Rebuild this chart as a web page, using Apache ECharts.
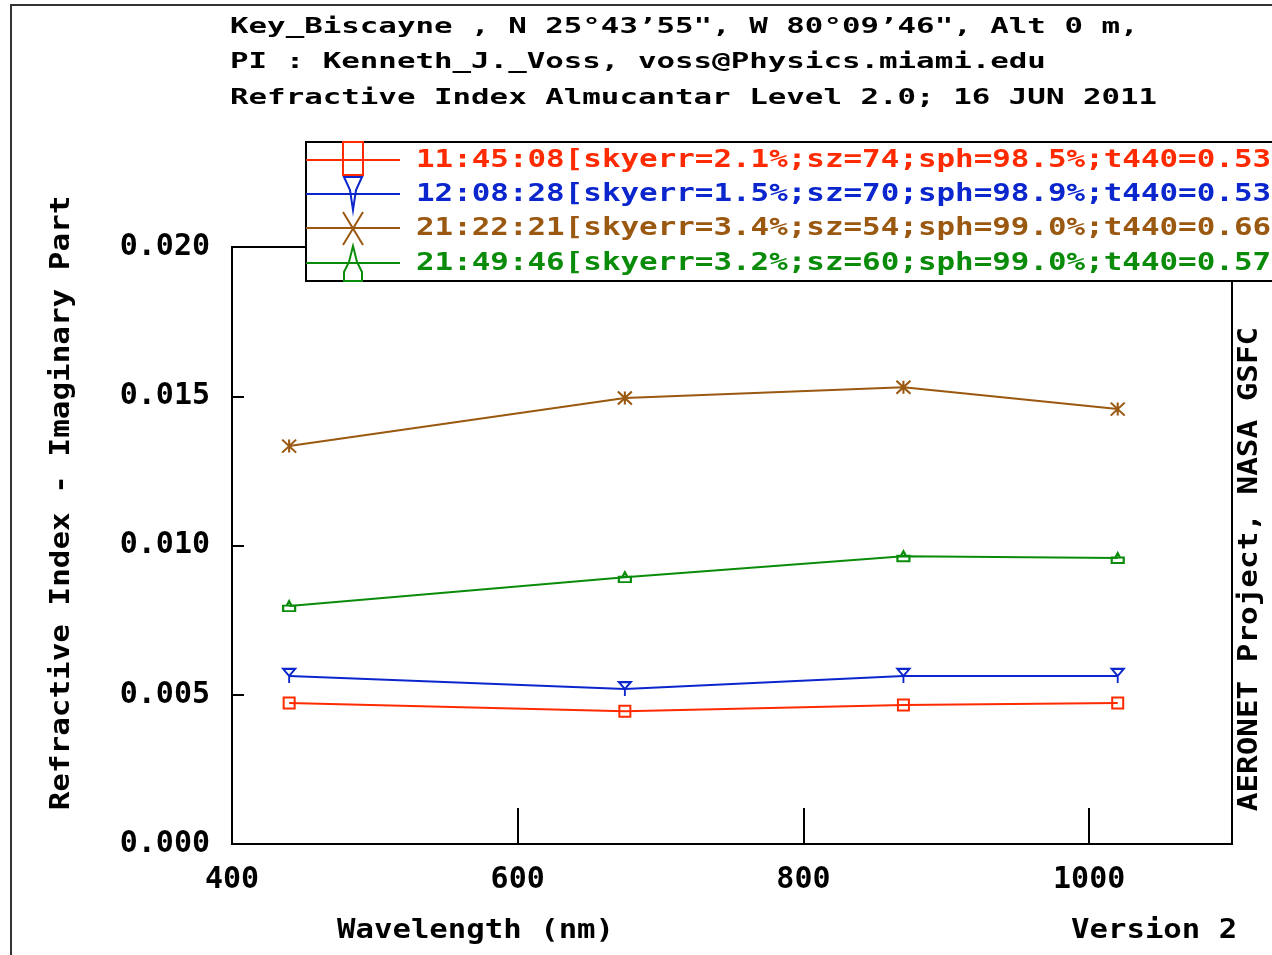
<!DOCTYPE html>
<html>
<head>
<meta charset="utf-8">
<script src="https://cdn.jsdelivr.net/npm/echarts@6/dist/echarts.min.js"></script>
<style>
  html, body { margin: 0; padding: 0; background: #fff; }
  #chart { width: 1272px; height: 955px; }
</style>
</head>
<body>
<div id="chart"></div>
<script>
// data
var wavelengths = [440, 675, 870, 1020];
var seriesNames = ['11:45:08', '12:08:28', '21:22:21', '21:49:46'];
var legendLabels = [
    '11:45:08[skyerr=2.1%;sz=74;sph=98.5%;t440=0.53',
    '12:08:28[skyerr=1.5%;sz=70;sph=98.9%;t440=0.53',
    '21:22:21[skyerr=3.4%;sz=54;sph=99.0%;t440=0.66',
    '21:49:46[skyerr=3.2%;sz=60;sph=99.0%;t440=0.57'
];
var kRed = [0.00472, 0.00445, 0.00466, 0.00472];
var kBlue = [0.00563, 0.00519, 0.00563, 0.00563];
var kBrown = [0.01333, 0.01494, 0.01530, 0.01457];
var kGreen = [0.00797, 0.00894, 0.00964, 0.00958];
var titleLines = [
    'Key_Biscayne , N 25\u00b043\u201955", W 80\u00b009\u201946", Alt 0 m,',
    'PI : Kenneth_J._Voss, voss@Physics.miami.edu',
    'Refractive Index Almucantar Level 2.0; 16 JUN 2011'
];

var colors = ['#ff2a00', '#0a26cc', '#9a5810', '#0a8c0a'];
var symbols = [
    'rect',
    'path://M0,0 L12,0 L6,7 Z M6,7 L6,14',
    'path://M0,0 L12,12 M12,0 L0,12 M6,0 L6,12',
    'path://M6,0 L8,4 L4,4 Z M1,4 L11,4 L11,9 L1,9 Z'
];
var symbolSizes = [[11, 11], [12, 14], [14, 13], [12, 10]];
var values = [kRed, kBlue, kBrown, kGreen];
var font = 'DejaVu Sans Mono';

function pairs(ys) {
    return wavelengths.map(function (x, i) { return [x, ys[i]]; });
}

var series = values.map(function (ys, k) {
    return {
        name: seriesNames[k],
        type: 'line',
        data: pairs(ys),
        symbol: symbols[k],
        symbolSize: symbolSizes[k],
        lineStyle: { color: colors[k], width: 2 },
        itemStyle: { color: 'rgba(0,0,0,0)', borderColor: colors[k], borderWidth: 2 },
        z: 3
    };
});

//texts and legend
var graphics = [
    { type: 'rect', shape: { x: 11, y: 5, width: 1400, height: 1100 },
      style: { fill: 'none', stroke: '#333', lineWidth: 2 }, z: 1 }
];
titleLines.forEach(function (t, i) {
    graphics.push({ type: 'text', x: 230, y: 27 + i * 35.5, scaleX: 1.4,
        style: { text: t, font: 'bold 22px "' + font + '"', fill: '#000', textVerticalAlign: 'middle' } });
});
graphics.push({ type: 'text', x: 62, y: 503, rotation: Math.PI / 2, scaleX: 1.19,
    style: { text: 'Refractive Index - Imaginary Part', font: 'bold 26px "' + font + '"', fill: '#000',
             textAlign: 'center', textVerticalAlign: 'middle' } });
graphics.push({ type: 'text', x: 1250, y: 569, rotation: Math.PI / 2, scaleX: 1.19,
    style: { text: 'AERONET Project, NASA GSFC', font: 'bold 26px "' + font + '"', fill: '#000',
             textAlign: 'center', textVerticalAlign: 'middle' } });
graphics.push({ type: 'text', x: 337, y: 931, scaleX: 1.18,
    style: { text: 'Wavelength (nm)', font: 'bold 26px "' + font + '"', fill: '#000', textVerticalAlign: 'middle' } });
graphics.push({ type: 'text', x: 1071, y: 931, scaleX: 1.18,
    style: { text: 'Version 2', font: 'bold 26px "' + font + '"', fill: '#000', textVerticalAlign: 'middle' } });

// legend box
graphics.push({ type: 'rect', shape: { x: 306, y: 142, width: 1100, height: 139 },
    style: { fill: '#fff', stroke: '#000', lineWidth: 2 }, z: 10 });
var rowY = [160, 194, 228, 263];
rowY.forEach(function (y, k) {
    graphics.push({ type: 'line', shape: { x1: 306, y1: y, x2: 400, y2: y },
        style: { stroke: colors[k], lineWidth: 2 }, z: 11 });
    graphics.push({ type: 'text', x: 416, y: y, scaleX: 1.235, z: 11,
        style: { text: legendLabels[k], font: 'bold 25px "' + font + '"', fill: colors[k], textVerticalAlign: 'middle' } });
});
// big legend markers
var mk = function (c) { return { fill: 'none', stroke: c, lineWidth: 2 }; };
graphics.push({ type: 'rect', shape: { x: 343, y: 142, width: 20, height: 33 }, style: mk(colors[0]), z: 12 });
graphics.push({ type: 'polygon', shape: { points: [[344, 177], [362, 177], [356, 190], [353, 210], [350, 190]] },
    style: mk(colors[1]), z: 12 });
graphics.push({ type: 'line', shape: { x1: 343, y1: 212, x2: 363, y2: 245 }, style: mk(colors[2]), z: 12 });
graphics.push({ type: 'line', shape: { x1: 363, y1: 212, x2: 343, y2: 245 }, style: mk(colors[2]), z: 12 });
graphics.push({ type: 'polygon', shape: { points: [[353, 246], [357, 262], [362, 272], [362, 281], [344, 281], [344, 272], [349, 262]] },
    style: mk(colors[3]), z: 12 });

var myChart = echarts.init(document.getElementById('chart'));
var option = {
    backgroundColor: '#fff',
    animation: false,
    grid: { left: 232, right: 40, top: 247, bottom: 111, show: true, borderColor: '#000', borderWidth: 2 },
    xAxis: {
        type: 'value', min: 400, max: 1100, interval: 200,
        axisLine: { lineStyle: { color: '#000', width: 2 } },
        axisTick: { inside: true, length: 36, lineStyle: { color: '#000', width: 2 } },
        splitLine: { show: false },
        axisLabel: { showMaxLabel: false, margin: 21, color: '#000', fontFamily: font, fontWeight: 'bold', fontSize: 30,
            formatter: function (v) { return String(v); } }
    },
    yAxis: {
        type: 'value', min: 0, max: 0.02, interval: 0.005,
        axisLine: { show: true, lineStyle: { color: '#000', width: 2 } },
        axisTick: { show: true, inside: true, length: 12, lineStyle: { color: '#000', width: 2 } },
        splitLine: { show: false },
        axisLabel: { margin: 22, color: '#000', fontFamily: font, fontWeight: 'bold', fontSize: 30,
            formatter: function (v) { return v.toFixed(3); } }
    },
    graphic: graphics,
    series: series
};
myChart.setOption(option, true);
</script>
</body>
</html>
